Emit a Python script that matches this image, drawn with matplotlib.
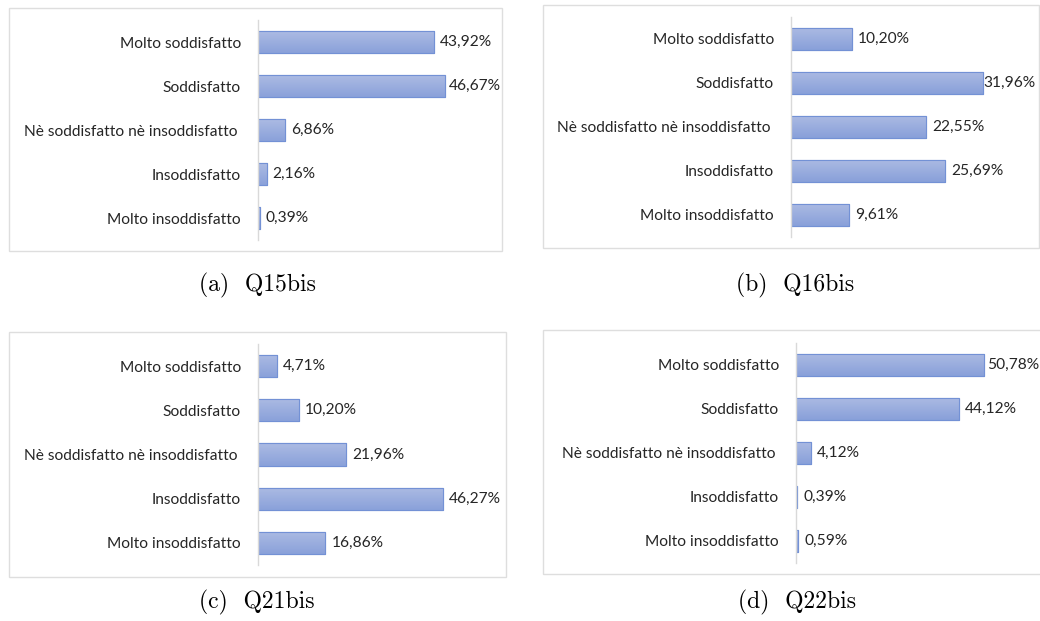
import matplotlib
matplotlib.use("Agg")
import matplotlib.pyplot as plt
import numpy as np
from matplotlib.patches import Rectangle

# ---- data ----
categories = [
    "Molto soddisfatto",
    "Soddisfatto",
    "Nè soddisfatto nè insoddisfatto ",
    "Insoddisfatto",
    "Molto insoddisfatto",
]
q15bis = [43.92, 46.67, 6.86, 2.16, 0.39]
q16bis = [10.20, 31.96, 22.55, 25.69, 9.61]
q21bis = [4.71, 10.20, 21.96, 46.27, 16.86]
q22bis = [50.78, 44.12, 4.12, 0.39, 0.59]
panel_tags = ["(a)", "(b)", "(c)", "(d)"]
panel_names = ["Q15bis", "Q16bis", "Q21bis", "Q22bis"]
series = [q15bis, q16bis, q21bis, q22bis]

W, H = 1040, 621
fig = plt.figure(figsize=(W / 100, H / 100), dpi=100)
fig.patch.set_facecolor("white")

LABEL_FONT = "Lato"
LABEL_SIZE = 11.2
TEXT_COLOR = "#262626"
GRID_GRAY = "#D9D9D9"
BAR_TOP = np.array([172, 187, 227]) / 255
BAR_BOT = np.array([138, 161, 218]) / 255
BAR_EDGE = "#7391D5"

# layout in pixels: frame box, axes box (left, top, right, bottom), px per %,
# right limit for value labels, caption centre
layouts = [
    dict(frame=(9, 8, 502, 251), ax=(258, 20, 500, 240), scale=4.007, lim=501, cap=(257, 285)),
    dict(frame=(543, 5, 1039, 248), ax=(791, 16.5, 1034, 236.5), scale=6.0, lim=1035, cap=(795, 285)),
    dict(frame=(9, 332, 506, 577), ax=(258, 344, 500, 565), scale=4.0, lim=502, cap=(257, 602)),
    dict(frame=(543, 330, 1045, 574), ax=(796, 342.5, 1039, 562.5), scale=3.696, lim=1039, cap=(797, 602)),
]

grad = np.linspace(0, 1, 64)[:, None, None]
grad_img = BAR_TOP * (1 - grad) + BAR_BOT * grad
grad_img = np.repeat(grad_img, 2, axis=1)

fig.canvas.draw()
renderer = fig.canvas.get_renderer()

for vals, lay, tag, name in zip(series, layouts, panel_tags, panel_names):
    fx0, fy0, fx1, fy1 = lay["frame"]
    fig.add_artist(Rectangle((fx0 / W, 1 - fy1 / H), (fx1 - fx0) / W, (fy1 - fy0) / H,
                             transform=fig.transFigure, fill=False,
                             edgecolor="#DEDEDE", linewidth=1.0))
    l, t, r, b = lay["ax"]
    ax = fig.add_axes([l / W, 1 - b / H, (r - l) / W, (b - t) / H])
    ax.set_xlim(0, (r - l) / lay["scale"])
    ax.set_ylim(len(categories) - 0.5, -0.5)
    ax.patch.set_alpha(0)

    y = np.arange(len(categories))
    bars = ax.barh(y, vals, height=0.5, color=BAR_BOT, edgecolor=BAR_EDGE,
                   linewidth=0.8, zorder=2)
    for bar in bars:
        x0, y0 = bar.get_x(), bar.get_y()
        w, h = bar.get_width(), bar.get_height()
        im = ax.imshow(grad_img, extent=[x0, x0 + w, y0 + h, y0], aspect="auto",
                       interpolation="bilinear", zorder=2.5, origin="upper")
        im.set_clip_path(bar)
        edge = Rectangle((x0, y0), w, h, fill=False, edgecolor=BAR_EDGE,
                         linewidth=0.8, zorder=3)
        ax.add_patch(edge)

    for side in ("top", "right", "bottom"):
        ax.spines[side].set_visible(False)
    ax.spines["left"].set_color(GRID_GRAY)
    ax.spines["left"].set_linewidth(1.0)
    ax.spines["left"].set_zorder(4)
    ax.set_xticks([])
    ax.set_yticks(y)
    ax.set_yticklabels(categories, fontfamily=LABEL_FONT, fontsize=LABEL_SIZE,
                       color=TEXT_COLOR)
    ax.tick_params(axis="y", length=0, pad=12.2)

    for yi, v in zip(y, vals):
        txt = f"{v:.2f}".replace(".", ",") + "%"
        ann = ax.annotate(txt, xy=(v, yi), xytext=(6, 0), textcoords="offset pixels",
                          ha="left", va="center", fontfamily=LABEL_FONT,
                          fontsize=LABEL_SIZE, color=TEXT_COLOR, annotation_clip=False)
        ext = ann.get_window_extent(renderer)
        if ext.x1 > lay["lim"]:
            shift = ext.x1 - lay["lim"]
            ann.xyann = (6 - shift, 0)

    cx, cy = lay["cap"]
    fig.text(cx / W, 1 - cy / H, f"{tag}  {name}", ha="center", va="center",
             fontfamily="cmr10", fontsize=17, color="black")

fig.savefig("out.png", dpi=100, facecolor="white")
